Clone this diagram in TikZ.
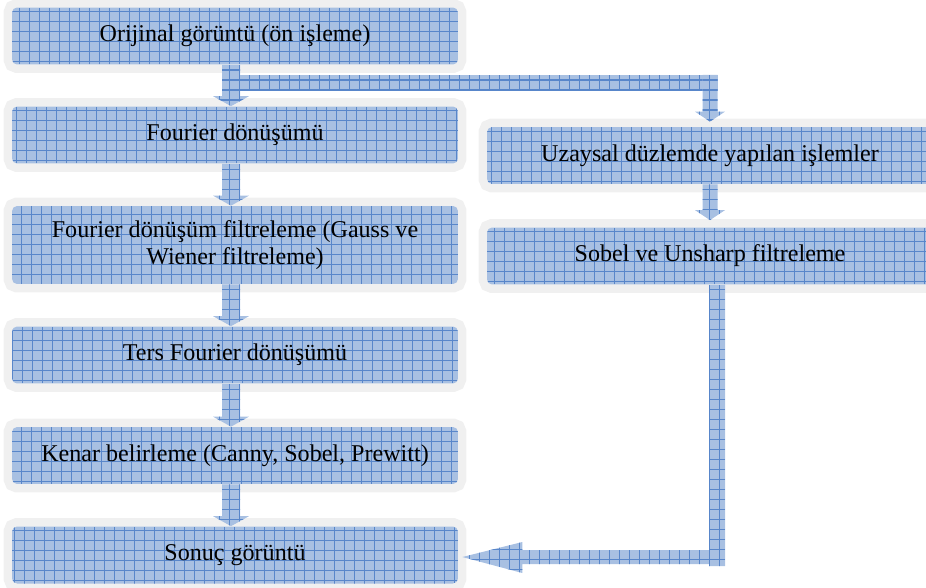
\documentclass[tikz,border=0pt]{standalone}
\usepackage{fontspec}
\setmainfont{Liberation Serif}
\usetikzlibrary{calc}
\definecolor{cellblue}{RGB}{168,192,226}
\definecolor{gridblue}{RGB}{88,134,202}
\definecolor{framegray}{RGB}{240,240,240}
\tikzset{
	gridfill/.style={fill=cellblue, path picture={\draw[gridblue, line width=0.6pt] (path picture bounding box.south west) grid[step=0.2cm] (path picture bounding box.north east);}},
	procbox/.style={gridfill, rounded corners=0.1cm, preaction={draw=framegray, line width=0.34cm}, minimum width=8.92cm, minimum height=1.14cm, inner sep=2pt, font=\fontsize{13.7}{15.4}\selectfont}
}
\newcommand{\blockdown}[5] % from anchor, to anchor, x offset, half width, gap at tip (all in px)
{
	\fill[gridfill] ($(#1)+(#3-#4,0)$) -- ($(#1)+(#3+#4,0)$)
		-- ($(#2)+(#3+#4,-10-#5)$) -- ($(#2)+(#3+2*#4,-10-#5)$)
		-- ($(#2)+(#3,-#5)$) -- ($(#2)+(#3-2*#4,-10-#5)$)
		-- ($(#2)+(#3-#4,-10-#5)$) -- cycle;
}
\begin{document}
\begin{tikzpicture}[x=0.02cm, y=-0.02cm]
	% page: 926 x 588 px, 1px = 0.02cm
	\useasboundingbox (0,0) rectangle (926,588);
	\clip (0,0) rectangle (926,588);
	
	% frequency side
	\node[procbox] (orj) at (235,36) {Orijinal görüntü (ön işleme)};
	\node[procbox] (fou) at (235,135) {Fourier dönüşümü};
	\node[procbox, minimum height=1.56cm, align=center] (fil) at (235,245) {Fourier dönüşüm filtreleme (Gauss ve\\Wiener filtreleme)};
	\node[procbox] (ters) at (235,355) {Ters Fourier dönüşümü};
	\node[procbox] (ken) at (235,455.5) {Kenar belirleme (Canny, Sobel, Prewitt)};
	\node[procbox] (son) at (235,555) {Sonuç görüntü};
	
	% spatial side
	\node[procbox] (uza) at (710,155.5) {Uzaysal düzlemde yapılan işlemler};
	\node[procbox] (sob) at (710,256) {Sobel ve Unsharp filtreleme};
	
	\blockdown{orj.south}{fou.north}{-4}{9}{0};
	\blockdown{fou.south}{fil.north}{-4}{9}{0};
	\blockdown{fil.south}{ters.north}{-4}{9}{0};
	\blockdown{ters.south}{ken.north}{-4}{9}{0};
	\blockdown{ken.south}{son.north}{-4}{9}{0};
	
	% branch to the right
	\coordinate (brk) at ($(orj.south -| uza.north)+(0,10)$);
	\fill[gridfill] ($(orj.south)+(5,10)$) rectangle ($(brk)+(7.5,16)$);
	\blockdown{brk}{uza.north}{0}{7.5}{5};
	\blockdown{uza.south}{sob.north}{0}{7.5}{7};
	
	% back to the result
	\coordinate (crn) at ($(son.east -| sob.south)+(7,2)$);
	\coordinate (tip) at ($(son.east |- crn)+(4,0)$);
	\fill[gridfill] ($(sob.south)+(-1,0)$) -- ($(sob.south)+(15,0)$) -- ($(crn)+(8,9)$) -- ($(crn)+(-8,9)$)
		-- ($(crn)+(-8,7)$) -- ($(tip)+(60,7)$) -- ($(tip)+(60,16)$) -- (tip)
		-- ($(tip)+(60,-15)$) -- ($(tip)+(60,-7)$) -- ($(crn)+(-8,-7)$) -- cycle;
\end{tikzpicture}
\end{document}
